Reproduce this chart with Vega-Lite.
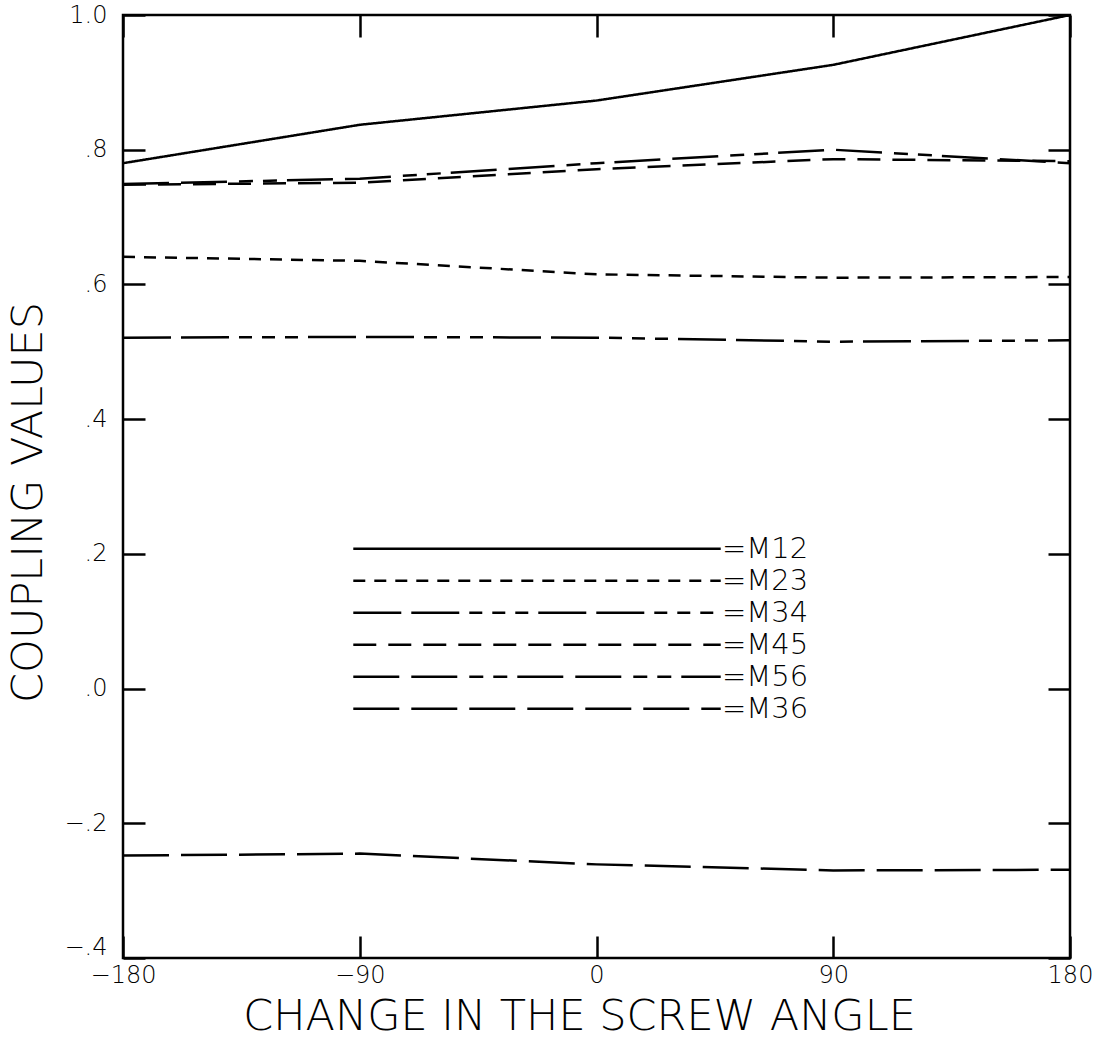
{
  "$schema": "https://vega.github.io/schema/vega-lite/v6.json",
  "autosize": {"type": "none"},
  "padding": {"left": 123, "top": 15, "right": 32, "bottom": 86},
  "width": 947,
  "height": 943,
  "background": "white",
  "config": {
    "view": {"stroke": "black", "strokeWidth": 2.5},
    "font": "DejaVu Sans",
    "axis": {
      "domain": false,
      "grid": false,
      "tickColor": "black",
      "tickWidth": 2.5,
      "tickSize": -22,
      "labelColor": "black",
      "labelFont": "DejaVu Sans",
      "labelFontSize": 24,
      "labelFontWeight": 200,
      "titleColor": "black",
      "titleFont": "DejaVu Sans",
      "titleFontSize": 43,
      "titleFontWeight": 200
    },
    "legend": {
      "orient": "none",
      "legendX": 229,
      "legendY": 518,
      "title": null,
      "padding": 0,
      "symbolType": "stroke",
      "symbolSize": 135000,
      "symbolStrokeWidth": 2.5,
      "symbolStrokeColor": "black",
      "clipHeight": 31.6,
      "rowPadding": 0,
      "labelOffset": 0,
      "labelFont": "DejaVu Sans",
      "labelFontSize": 29,
      "labelFontWeight": 200,
      "labelColor": "black"
    }
  },
  "data": {
    "values": [
      {"series": "M12", "angle": -180, "value": 0.780},
      {"series": "M12", "angle": -90, "value": 0.837},
      {"series": "M12", "angle": 0, "value": 0.873},
      {"series": "M12", "angle": 90, "value": 0.926},
      {"series": "M12", "angle": 180, "value": 1.0},
      {"series": "M23", "angle": -180, "value": 0.641},
      {"series": "M23", "angle": -90, "value": 0.635},
      {"series": "M23", "angle": 0, "value": 0.615},
      {"series": "M23", "angle": 90, "value": 0.610},
      {"series": "M23", "angle": 180, "value": 0.611},
      {"series": "M34", "angle": -180, "value": 0.521},
      {"series": "M34", "angle": -90, "value": 0.522},
      {"series": "M34", "angle": 0, "value": 0.521},
      {"series": "M34", "angle": 90, "value": 0.515},
      {"series": "M34", "angle": 180, "value": 0.517},
      {"series": "M45", "angle": -180, "value": 0.748},
      {"series": "M45", "angle": -90, "value": 0.751},
      {"series": "M45", "angle": 0, "value": 0.771},
      {"series": "M45", "angle": 90, "value": 0.786},
      {"series": "M45", "angle": 180, "value": 0.783},
      {"series": "M56", "angle": -180, "value": 0.749},
      {"series": "M56", "angle": -90, "value": 0.757},
      {"series": "M56", "angle": 0, "value": 0.780},
      {"series": "M56", "angle": 90, "value": 0.800},
      {"series": "M56", "angle": 180, "value": 0.780},
      {"series": "M36", "angle": -180, "value": -0.248},
      {"series": "M36", "angle": -90, "value": -0.245},
      {"series": "M36", "angle": 0, "value": -0.261},
      {"series": "M36", "angle": 90, "value": -0.270},
      {"series": "M36", "angle": 180, "value": -0.269}
    ]
  },
  "layer": [
    {
      "mark": {"type": "line", "color": "black", "strokeWidth": 2.5, "clip": true},
      "encoding": {
        "x": {
          "field": "angle", "type": "quantitative",
          "scale": {"domain": [-180, 180], "nice": false},
          "axis": {
            "orient": "bottom",
            "values": [-180, -90, 0, 90, 180],
            "format": "d",
            "labelPadding": 27,
            "labelFlush": false,
            "title": "CHANGE IN THE SCREW ANGLE",
            "titleX": 456,
            "titleY": 58,
            "titleBaseline": "middle",
            "titleAlign": "center"
          }
        },
        "y": {
          "field": "value", "type": "quantitative",
          "scale": {"domain": [-0.4, 1.0], "nice": false, "zero": false},
          "axis": {
            "orient": "left",
            "values": [-0.4, -0.2, 0, 0.2, 0.4, 0.6, 0.8, 1.0],
            "labelExpr": "datum.value == 1 ? '1.0' : replace(format(datum.value, '.1f'), '0.', '.')",
            "labelPadding": 38,
            "labelFlush": false,
            "labelOffset": {"condition": {"test": "datum.value < -0.35", "value": -11}, "value": 0},
            "title": "COUPLING VALUES",
            "titleAngle": -90,
            "titleX": -95,
            "titleY": 487,
            "titleBaseline": "middle",
            "titleAlign": "center"
          }
        },
        "strokeDash": {
          "field": "series", "type": "nominal",
          "scale": {
            "domain": ["M12", "M23", "M34", "M45", "M56", "M36"],
            "range": [[1, 0], [12, 9], [48, 10, 48, 10, 13, 10, 13, 10, 13, 10], [23, 12], [46, 12, 46, 12, 14, 10, 14, 10], [46, 12]]
          },
          "legend": {"labelExpr": "'=' + datum.label"}
        },
        "detail": {"field": "series"}
      }
    },
    {
      "mark": {"type": "point", "opacity": 0},
      "encoding": {
        "x": {
          "field": "angle", "type": "quantitative",
          "axis": {"orient": "top", "values": [-180, -90, 0, 90, 180], "labels": false, "title": null}
        },
        "y": {
          "field": "value", "type": "quantitative",
          "axis": {"orient": "right", "values": [-0.4, -0.2, 0, 0.2, 0.4, 0.6, 0.8, 1.0], "labels": false, "title": null}
        }
      }
    }
  ],
  "resolve": {"axis": {"x": "independent", "y": "independent"}}
}
